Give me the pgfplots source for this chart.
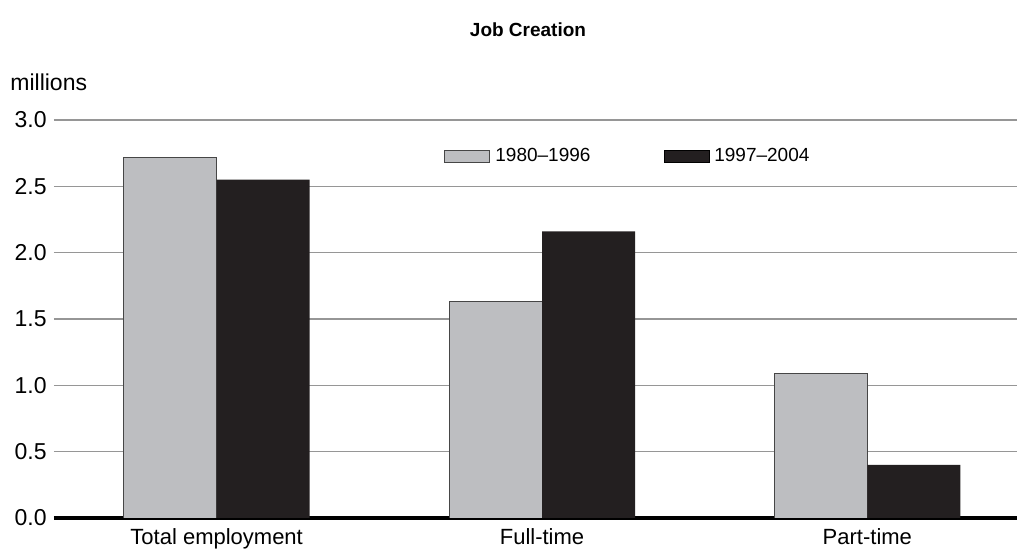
\documentclass[border=0pt]{standalone}
\usepackage{fontspec}
\setmainfont{Liberation Sans}
\usepackage{pgfplots}
\pgfplotsset{compat=1.18}

\definecolor{barlight}{RGB}{189,190,193}
\definecolor{barlightedge}{RGB}{70,70,70}
\definecolor{bardark}{RGB}{35,31,32}
\definecolor{gridc}{RGB}{150,150,150}

\pgfplotsset{boxlegend/.style={legend image code/.code={%
  \draw[##1] (0bp,-3bp) rectangle (22.5bp,3bp);}}}

\begin{document}
\begin{tikzpicture}
% page: 1017x550 px, 1 px = 0.5 bp, axis lower-left at px (54,518)
\useasboundingbox (-27bp,-16bp) rectangle (481.5bp,259bp);
\begin{axis}[
  at={(0,0)}, anchor=south west,
  scale only axis,
  width=481.5bp, height=199bp,
  ybar=0pt, bar width=46.5bp,
  xmin=-0.5, xmax=2.46,
  ymin=0, ymax=3,
  axis x line*=bottom,
  axis y line*=left,
  x axis line style={-, black, line width=2bp},
  y axis line style={draw=none},
  major tick length=0pt,
  xtick={0,1,2},
  xticklabels={Total employment,Full-time,Part-time},
  ytick={0,0.5,...,3},
  yticklabel style={/pgf/number format/fixed, /pgf/number format/fixed zerofill,
    /pgf/number format/precision=1, anchor=east, inner sep=0pt, xshift=-3.5bp,
    font=\fontsize{11.5bp}{13bp}\selectfont},
  xticklabel style={anchor=north, inner sep=0pt, yshift=-5bp,
    font=\fontsize{11bp}{13bp}\selectfont},
  /pgf/number format/assume math mode=true,
  ymajorgrids,
  major grid style={gridc, line width=0.8bp},
  legend columns=2,
  legend style={draw=none, fill=none, at={(0.405,0.9095)}, anchor=west,
    inner sep=0pt, nodes={inner sep=2.5bp, font=\fontsize{9.5bp}{11bp}\selectfont},
    /tikz/every even column/.append style={column sep=34bp}},
]
\addplot[fill=barlight, draw=barlightedge, line width=0.5bp, boxlegend]
  coordinates {(0,2.72) (1,1.63) (2,1.09)};
\addplot[fill=bardark, draw=none, boxlegend]
  coordinates {(0,2.55) (1,2.16) (2,0.40)};
\legend{1980--1996,1997--2004}
\end{axis}
\node[anchor=center, inner sep=0pt, font=\fontsize{9.5bp}{11bp}\selectfont\bfseries]
  at (237bp,244bp) {Job Creation};
\node[anchor=west, inner sep=0pt, font=\fontsize{11.5bp}{13bp}\selectfont]
  at (-22bp,218bp) {millions};
\end{tikzpicture}
\end{document}
